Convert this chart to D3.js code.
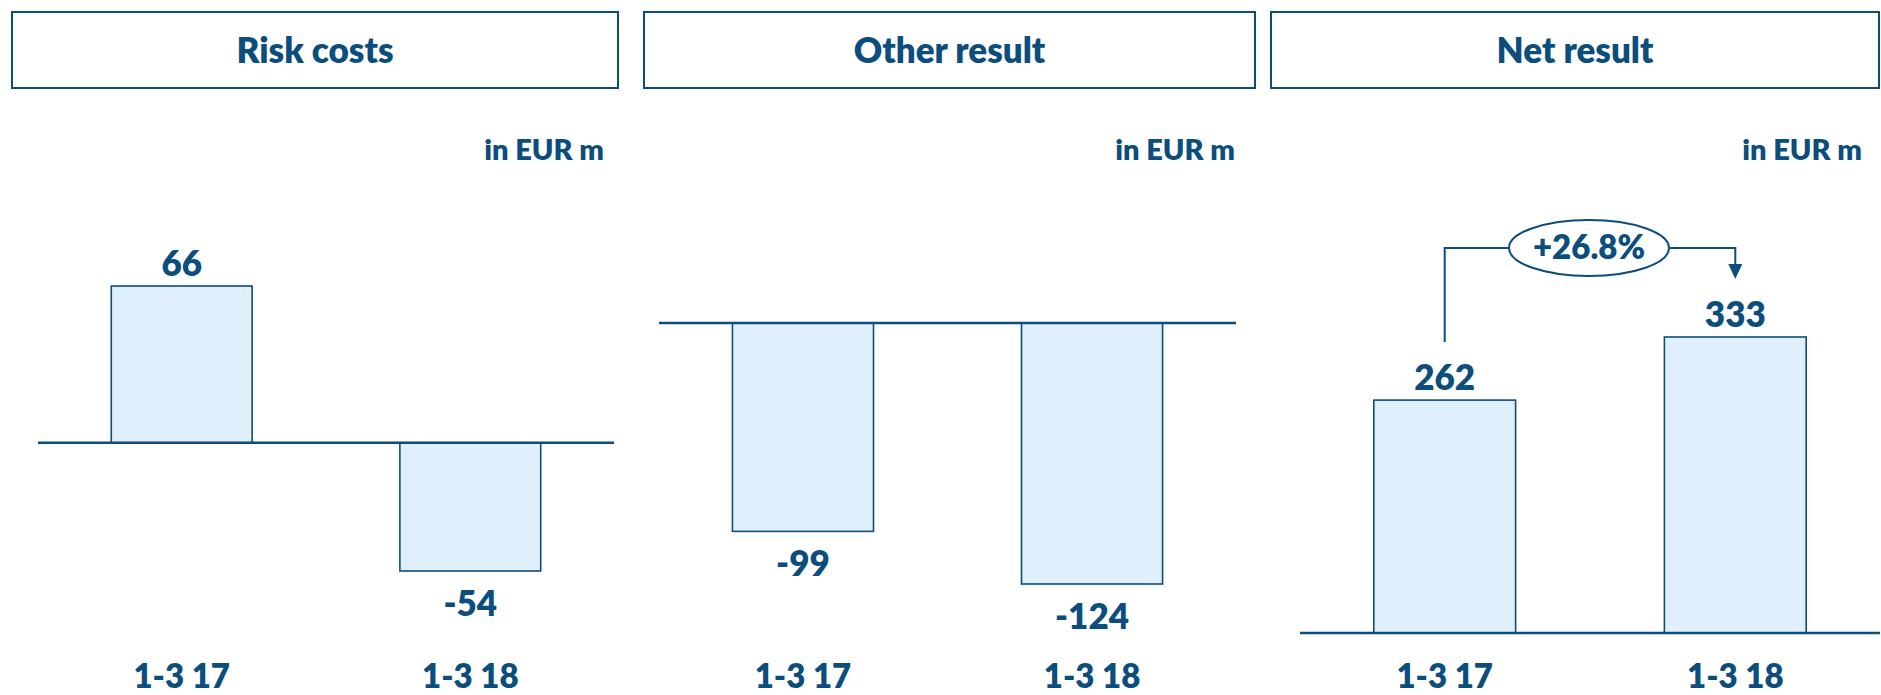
<!DOCTYPE html>
<html>
<head>
<meta charset="utf-8">
<script src="https://cdn.jsdelivr.net/npm/d3@7"></script>
<style>
  html, body { margin: 0; padding: 0; background: #fff; }
  svg text { font-family: Lato, "Open Sans", sans-serif; font-weight: 800; }
</style>
</head>
<body>
<svg id="chart" width="1881" height="695"></svg>
<script>
// data
const panelTitles = ["Risk costs", "Other result", "Net result"];
const categories = ["1-3 17", "1-3 18"];
const riskCosts = [66, -54];
const otherResult = [-99, -124];
const netResult = [262, 333];
const unitLabel = "in EUR m";
const netGrowthLabel = "+26.8%";

const seriesList = [riskCosts, otherResult, netResult];

// colours
const dark = "#0b4d7d",
    fill = "#dff0fc";

// panel layout (pixels)
const layout = [
  {boxX: 12,   boxW: 606, lineX: 38,   lineW: 576, yTop: 286, yBot: 571, unitX: 604},
  {boxX: 644,  boxW: 611, lineX: 659,  lineW: 577, yTop: 323, yBot: 584, unitX: 1235},
  {boxX: 1271, boxW: 608, lineX: 1300, lineW: 580, yTop: 337, yBot: 633, unitX: 1862}
];

const svg = d3.select("#chart");

seriesList.forEach(function(values, p) {
  const L = layout[p];
  const g = svg.append("g").attr("class", "panel");

  // title box
  g.append("rect")
    .attr("x", L.boxX)
    .attr("y", 12)
    .attr("width", L.boxW)
    .attr("height", 76)
    .attr("fill", "none")
    .attr("stroke", dark)
    .attr("stroke-width", 2);

  g.append("text")
    .attr("x", L.boxX + L.boxW / 2)
    .attr("y", 63)
    .attr("text-anchor", "middle")
    .attr("font-size", "35px")
    .attr("fill", dark)
    .text(panelTitles[p]);

  g.append("text")
    .attr("x", L.unitX)
    .attr("y", 160)
    .attr("text-anchor", "end")
    .attr("font-size", "29px")
    .attr("fill", dark)
    .text(unitLabel);

  // scales
  const x = d3.scaleBand()
    .domain(categories)
    .range([L.lineX, L.lineX + L.lineW])
    .paddingInner(0.512)
    .paddingOuter(0.254);

  const y = d3.scaleLinear()
    .domain([Math.min(0, d3.min(values)), Math.max(0, d3.max(values))])
    .range([L.yBot, L.yTop]);

  const rows = categories.map((c, i) => ({cat: c, value: values[i]}));

  // bars
  g.selectAll("rect.bar")
    .data(rows)
    .enter()
    .append("rect")
      .attr("class", "bar")
      .attr("x", d => x(d.cat))
      .attr("y", d => Math.min(y(0), y(d.value)))
      .attr("width", x.bandwidth())
      .attr("height", d => Math.abs(y(d.value) - y(0)))
      .attr("fill", fill)
      .attr("stroke", dark)
      .attr("stroke-width", 1.6);

  // zero line
  g.append("line")
    .attr("x1", L.lineX)
    .attr("x2", L.lineX + L.lineW)
    .attr("y1", y(0))
    .attr("y2", y(0))
    .attr("stroke", dark)
    .attr("stroke-width", 2.5);

  // value labels
  g.selectAll("text.val")
    .data(rows)
    .enter()
    .append("text")
      .attr("class", "val")
      .attr("x", d => x(d.cat) + x.bandwidth() / 2)
      .attr("y", d => d.value >= 0 ? y(d.value) - 10 : y(d.value) + 45)
      .attr("text-anchor", "middle")
      .attr("font-size", "35px")
      .attr("fill", dark)
      .text(d => d.value);

  // category labels
  g.selectAll("text.cat")
    .data(categories)
    .enter()
    .append("text")
      .attr("class", "cat")
      .attr("x", d => x(d) + x.bandwidth() / 2)
      .attr("y", 688)
      .attr("text-anchor", "middle")
      .attr("font-size", "33px")
      .attr("fill", dark)
      .text(d => d);

  // growth bracket on the net result panel
  if (values === netResult) {
    const x1 = x(categories[0]) + x.bandwidth() / 2,
        x2 = x(categories[1]) + x.bandwidth() / 2,
        by = 248,
        cx = 1589, rx = 80, ry = 28;
    const tip = y(values[1]) - 58;

    g.append("path")
      .attr("d", "M" + x1 + "," + (y(values[0]) - 58) + "V" + by + "H" + (cx - rx))
      .attr("fill", "none")
      .attr("stroke", dark)
      .attr("stroke-width", 2);

    g.append("path")
      .attr("d", "M" + (cx + rx) + "," + by + "H" + x2 + "V" + (tip - 12))
      .attr("fill", "none")
      .attr("stroke", dark)
      .attr("stroke-width", 2);

    g.append("path")
      .attr("d", "M" + (x2 - 7) + "," + (tip - 15) + "L" + (x2 + 7) + "," + (tip - 15) + "L" + x2 + "," + tip + "Z")
      .attr("fill", dark);

    g.append("ellipse")
      .attr("cx", cx)
      .attr("cy", by)
      .attr("rx", rx)
      .attr("ry", ry)
      .attr("fill", "#fff")
      .attr("stroke", dark)
      .attr("stroke-width", 2);

    g.append("text")
      .attr("x", cx)
      .attr("y", by + 11)
      .attr("text-anchor", "middle")
      .attr("font-size", "33px")
      .attr("fill", dark)
      .text(netGrowthLabel);
  }
});
</script>
</body>
</html>
